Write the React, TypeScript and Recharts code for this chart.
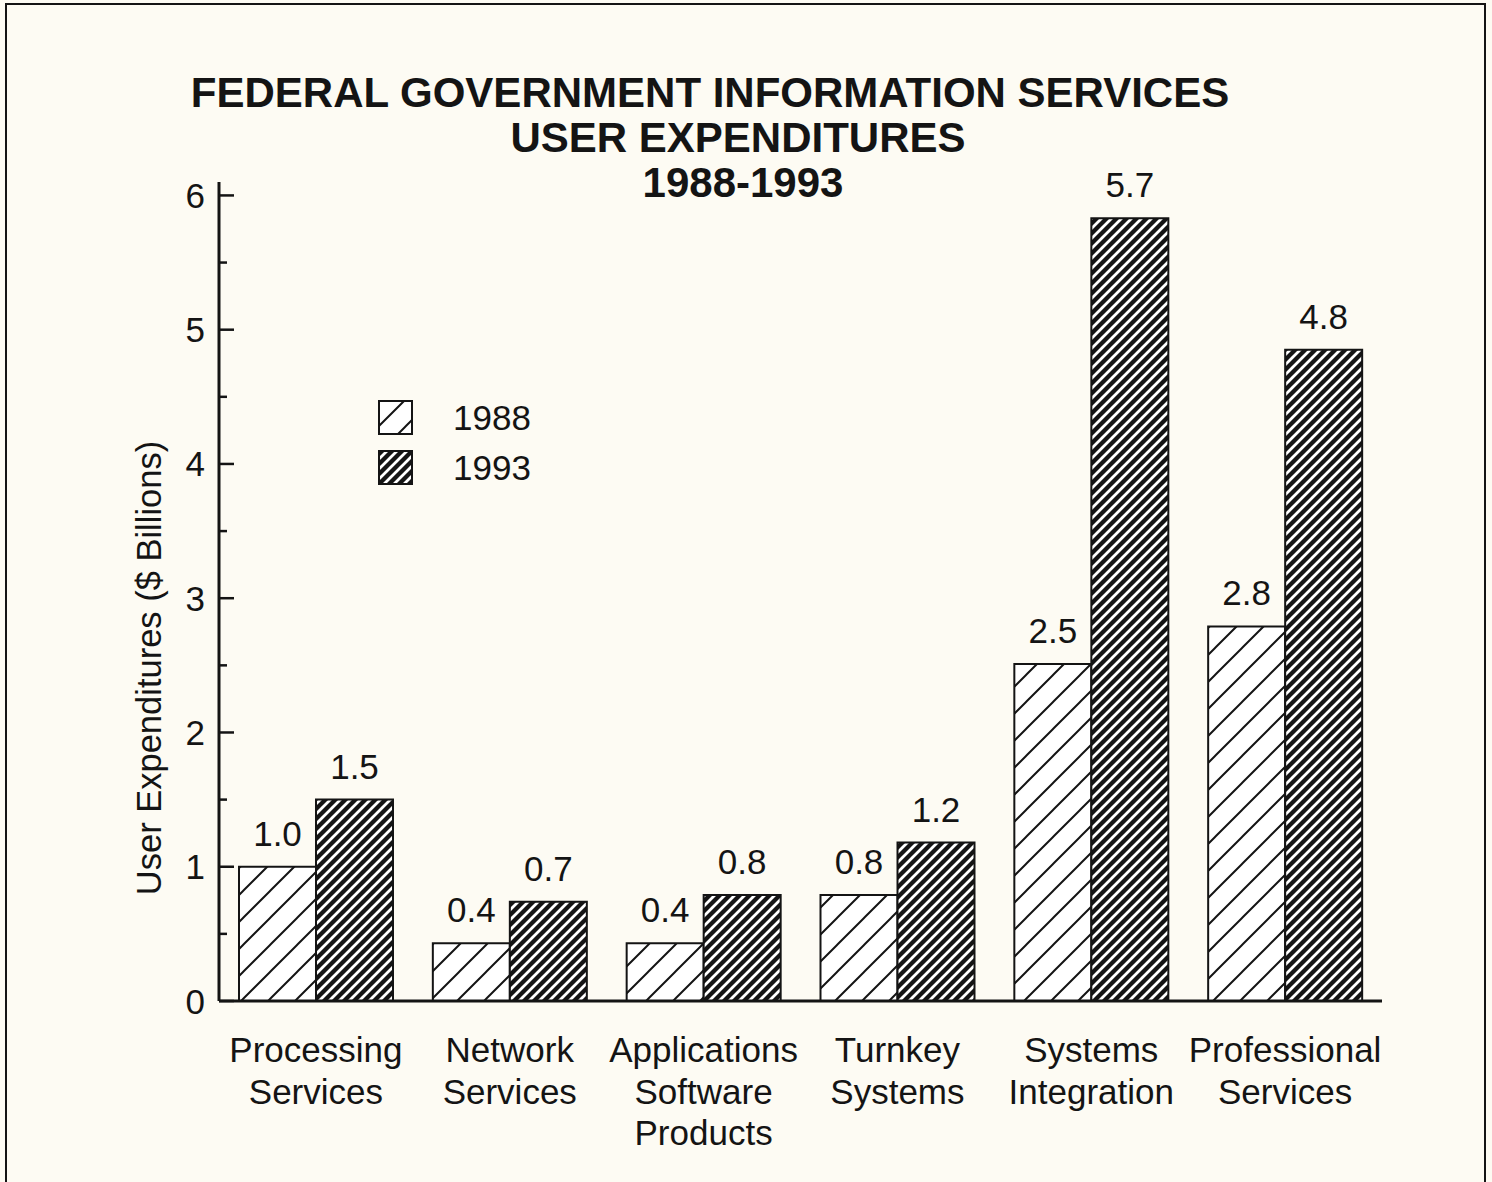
import React from 'react';
import { BarChart, Bar, XAxis, YAxis, Legend, LabelList } from 'recharts';

const categories = [
  'Processing\nServices',
  'Network\nServices',
  'Applications\nSoftware\nProducts',
  'Turnkey\nSystems',
  'Systems\nIntegration',
  'Professional\nServices',
];
const values1988 = [1.0, 0.43, 0.43, 0.79, 2.51, 2.79];
const values1993 = [1.5, 0.74, 0.79, 1.18, 5.83, 4.85];
const labels1988 = ['1.0', '0.4', '0.4', '0.8', '2.5', '2.8'];
const labels1993 = ['1.5', '0.7', '0.8', '1.2', '5.7', '4.8'];
const yTicks = [0, 0.5, 1, 1.5, 2, 2.5, 3, 3.5, 4, 4.5, 5, 5.5, 6];
const titleLines = ['FEDERAL GOVERNMENT INFORMATION SERVICES', 'USER EXPENDITURES', '1988-1993'];
const yAxisTitle = 'User Expenditures ($ Billions)';

const data = categories.map((category, i) => ({
  category,
  y1988: values1988[i],
  y1993: values1993[i],
  l1988: labels1988[i],
  l1993: labels1993[i],
}));

const FONT = '"Liberation Sans", Arial, Helvetica, sans-serif';
const INK = '#141414';
const PAPER = '#fdfbf3';

const patternFor: Record<string, string> = {
  y1988: 'url(#hatchLight)',
  y1993: 'url(#hatchDark)',
};

const YTick = (props: any) => {
  const { x, y, payload } = props;
  const major = Number.isInteger(payload.value);
  return (
    <g>
      <line x1={x} x2={x + (major ? 15 : 8)} y1={y} y2={y} stroke={INK} strokeWidth={2.5} />
      {major && (
        <text x={x - 14} y={y} textAnchor="end" dominantBaseline="central" fontSize={35} fill={INK} fontFamily={FONT}>
          {payload.value}
        </text>
      )}
    </g>
  );
};

const XTick = (props: any) => {
  const { x, y, payload } = props;
  const lines = String(payload.value).split('\n');
  return (
    <text x={x} y={y} textAnchor="middle" fontSize={35} fill={INK} fontFamily={FONT}>
      {lines.map((line, i) => (
        <tspan key={i} x={x} dy={i === 0 ? 61 : 41.5}>
          {line}
        </tspan>
      ))}
    </text>
  );
};

const LegendBox = (props: any) => {
  const { payload } = props;
  return (
    <div style={{ display: 'flex', flexDirection: 'column', gap: 16 }}>
      {(payload || []).map((entry: any) => (
        <div key={entry.value} style={{ display: 'flex', alignItems: 'center', height: 34 }}>
          <svg width={36} height={36} style={{ display: 'block' }}>
            <rect x={1} y={1} width={33} height={33} fill={patternFor[entry.dataKey]} stroke={INK} strokeWidth={2} />
          </svg>
          <span style={{ marginLeft: 39, fontSize: 35, fontFamily: FONT, color: INK }}>{entry.value}</span>
        </div>
      ))}
    </div>
  );
};

export default function App() {
  return (
    <div
      style={{
        position: 'absolute',
        left: 0,
        top: 0,
        width: 1492,
        height: 1182,
        background: PAPER,
        overflow: 'hidden',
      }}
    >
      <div
        style={{
          position: 'absolute',
          left: 5,
          top: 3,
          width: 1477,
          height: 1200,
          border: `2px solid ${INK}`,
        }}
      />
      <BarChart
        width={1492}
        height={1182}
        data={data}
        margin={{ top: 182, right: 110, bottom: 31, left: 159 }}
        barGap={0}
        barSize={77}
      >
        <defs>
          <pattern id="hatchLight" patternUnits="userSpaceOnUse" width={27} height={27}>
            <rect width={27} height={27} fill="#ffffff" />
            <path d="M0,27 L27,0 M-2,2 L2,-2 M25,29 L29,25" stroke={INK} strokeWidth={2} />
          </pattern>
          <pattern id="hatchDark" patternUnits="userSpaceOnUse" width={10} height={10}>
            <rect width={10} height={10} fill={INK} />
            <path d="M0,10 L10,0 M-2,2 L2,-2 M8,12 L12,8" stroke="#ffffff" strokeWidth={2.8} />
          </pattern>
        </defs>
        <XAxis
          dataKey="category"
          height={150}
          interval={0}
          tickLine={false}
          tickSize={0}
          tickMargin={0}
          axisLine={{ stroke: INK, strokeWidth: 3 }}
          tick={<XTick />}
        />
        <YAxis
          width={60}
          domain={[0, 6.1]}
          ticks={yTicks}
          interval={0}
          tickLine={false}
          tickSize={0}
          tickMargin={0}
          axisLine={{ stroke: INK, strokeWidth: 3 }}
          tick={<YTick />}
        />
        <Legend
          layout="horizontal"
          verticalAlign="middle"
          align="center"
          content={<LegendBox />}
          wrapperStyle={{ left: 378, top: 401, width: 220, height: 90 }}
        />
        <Bar dataKey="y1988" name="1988" fill="url(#hatchLight)" stroke={INK} strokeWidth={2} isAnimationActive={false}>
          <LabelList dataKey="l1988" position="top" offset={21} fontSize={35} fill={INK} fontFamily={FONT} />
        </Bar>
        <Bar dataKey="y1993" name="1993" fill="url(#hatchDark)" stroke={INK} strokeWidth={2} isAnimationActive={false}>
          <LabelList dataKey="l1993" position="top" offset={21} fontSize={35} fill={INK} fontFamily={FONT} />
        </Bar>
      </BarChart>
      <svg
        width={1492}
        height={1182}
        style={{ position: 'absolute', left: 0, top: 0, pointerEvents: 'none' }}
      >
        <g fontFamily={FONT} fontWeight="bold" fontSize={42} fill={INK} textAnchor="middle">
          <text x={710} y={107}>{titleLines[0]}</text>
          <text x={738} y={152}>{titleLines[1]}</text>
          <text x={743} y={197}>{titleLines[2]}</text>
        </g>
        <text
          transform="translate(161,668) rotate(-90)"
          textAnchor="middle"
          fontFamily={FONT}
          fontSize={34.5}
          fill={INK}
        >
          {yAxisTitle}
        </text>
      </svg>
    </div>
  );
}
